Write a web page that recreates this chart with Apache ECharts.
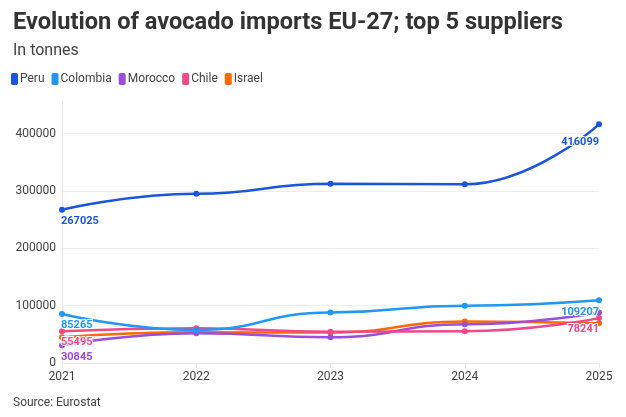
<!DOCTYPE html>
<html>
<head>
<meta charset="utf-8">
<script src="https://cdn.jsdelivr.net/npm/echarts@6/dist/echarts.min.js"></script>
<style>
  html, body { margin: 0; padding: 0; background: #fff; }
  #chart { width: 626px; height: 417px; }
</style>
</head>
<body>
<div id="chart"></div>
<script>
// Data
var years = ['2021', '2022', '2023', '2024', '2025'];
var peru = [267025, 295000, 312500, 311500, 416099];
var colombia = [85265, 57500, 88000, 100000, 109207];
var morocco = [30845, 52000, 45000, 67500, 88000];
var chile = [55495, 60500, 54500, 55500, 78241];
var israel = [45000, 53500, 53000, 72500, 69500];

// Which end labels are shown per series: [first, last]
var endLabels = {
    Peru: [true, true],
    Colombia: [true, true],
    Morocco: [true, false],
    Chile: [true, true],
    Israel: [false, false]
};

var colors = {
    Peru: '#1a56db',
    Colombia: '#2196f3',
    Morocco: '#9b4ddb',
    Chile: '#f0488a',
    Israel: '#ff6a00'
};

var font = 'Roboto, "Noto Sans", sans-serif';

function buildData(name, values) {
    var last = values.length - 1;
    return values.map(function (v, i) {
        var item = { value: v };
        if (i === 0 && endLabels[name][0]) {
            item.label = { show: true, position: 'bottom', align: 'left', offset: [-1, 0] };
        } else if (i === last && endLabels[name][1]) {
            // Peru's end label sits a bit lower, clear of the steep line
            item.label = { show: true, position: 'bottom', align: 'right', offset: [0, name === 'Peru' ? 6 : 0] };
        }
        return item;
    });
}

function makeSeries(name, values, z) {
    return {
        name: name,
        type: 'line',
        data: buildData(name, values),
        smooth: true,
        smoothMonotone: 'x',
        symbol: 'circle',
        symbolSize: 6,
        z: z,
        lineStyle: { width: 2.5, color: colors[name] },
        itemStyle: { color: colors[name] },
        label: {
            show: false,
            color: colors[name],
            fontFamily: font,
            fontSize: 11,
            fontWeight: 'bold',
            distance: 3,
            textBorderColor: '#fff',
            textBorderWidth: 2
        },
        emphasis: { disabled: true }
    };
}

var chart = echarts.init(document.getElementById('chart'));

chart.setOption({
    animation: false,
    textStyle: { fontFamily: font },
    title: [
        {
            text: 'Evolution of avocado imports EU-27; top 5 suppliers',
            left: 8,
            top: 6,
            textStyle: { fontSize: 23.6, fontWeight: 'bold', color: '#333', fontFamily: font }
        },
        {
            text: 'In tonnes',
            left: 8,
            top: 38,
            textStyle: { fontSize: 16, fontWeight: 'normal', color: '#444', fontFamily: font }
        },
        {
            text: 'Source: Eurostat',
            left: 8,
            top: 392,
            textStyle: { fontSize: 12, fontWeight: 'normal', color: '#444', fontFamily: font }
        }
    ],
    legend: {
        left: 6,
        top: 68,
        icon: 'roundRect',
        itemWidth: 7,
        itemHeight: 12,
        itemGap: 7,
        textStyle: { fontSize: 12, color: '#444', fontFamily: font, padding: [0, 0, 0, -3] },
        data: ['Peru', 'Colombia', 'Morocco', 'Chile', 'Israel']
    },
    grid: { left: 62, right: 27, top: 102, bottom: 54 },
    xAxis: {
        type: 'category',
        data: years,
        boundaryGap: false,
        axisLine: { lineStyle: { color: '#e6e6e6' } },
        axisTick: { show: true, alignWithLabel: true, lineStyle: { color: '#e6e6e6' } },
        axisLabel: { color: '#444', fontSize: 12, margin: 8 },
        splitLine: { show: false }
    },
    yAxis: {
        type: 'value',
        min: 0,
        max: 455000,
        interval: 100000,
        axisLine: { show: true, lineStyle: { color: '#e6e6e6' } },
        axisTick: { show: false },
        axisLabel: {
            color: '#444',
            fontSize: 12,
            margin: 6,
            showMaxLabel: false,
            formatter: function (v) { return String(v); }
        },
        splitLine: {
            lineStyle: { color: ['#eeeeee', '#eeeeee', '#eeeeee', '#eeeeee', '#eeeeee', 'rgba(0,0,0,0)'] }
        }
    },
    series: [
        makeSeries('Israel', israel, 1),
        makeSeries('Morocco', morocco, 2),
        makeSeries('Chile', chile, 3),
        makeSeries('Colombia', colombia, 4),
        makeSeries('Peru', peru, 5)
    ]
});
</script>
</body>
</html>
